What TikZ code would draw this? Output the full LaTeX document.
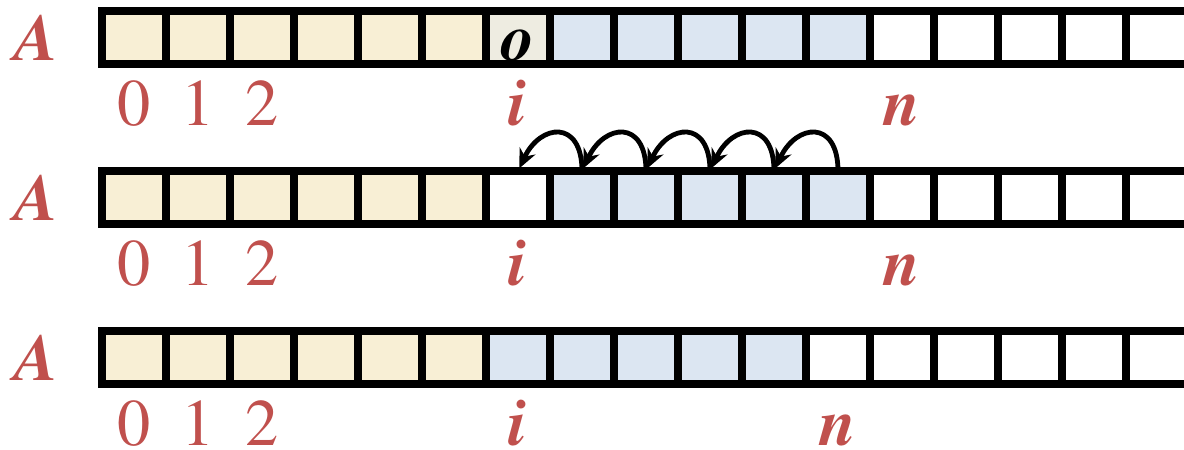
\documentclass[tikz,border=0pt]{standalone}
\usepackage[T1]{fontenc}
\usepackage{mathptmx}
\usetikzlibrary{arrows.meta}
\definecolor{idxred}{HTML}{C0504D}
\definecolor{cellyellow}{HTML}{F8EFD5}
\definecolor{cellblue}{HTML}{DCE6F2}
\definecolor{celltan}{HTML}{EEECE1}
\begin{document}
\begin{tikzpicture}[
    cell/.style={draw=black, line width=0.125cm, minimum width=1cm, minimum height=0.83cm, inner sep=0pt, outer sep=0pt},
    lbl/.style={text=idxred, font=\fontsize{29.5}{30}\selectfont, inner sep=0pt, anchor=base},
    ivar/.style={lbl, font=\fontsize{29.5}{30}\selectfont\bfseries\itshape},
    move/.style={-{Stealth[length=0.3cm,width=0.27cm]}, line width=0.075cm, shorten >=0.05cm}
  ]
    \useasboundingbox (0,0) rectangle (18.5,-7.03);
    \foreach \r/\bs/\be/\m in {1/7/11/12, 2/7/11/12, 3/6/10/11} {
      \pgfmathsetmacro\y{-0.59-2.5*(\r-1)}
      \foreach \k in {0,...,16} {
        \ifnum\k<6 \def\c{cellyellow}\else\ifnum\k<\bs \def\c{white}\else\ifnum\k>\be \def\c{white}\else\def\c{cellblue}\fi\fi\fi
        \node[cell, fill=\c] (a\r-\k) at (2.094+\k, \y) {};
      }
      \node[ivar] (A\r) at (0.57, \y-0.35) {A};
      \node[lbl] (z\r) at ([yshift=-1.37cm]a\r-0.center) {0};
      \node[lbl] (o\r) at ([yshift=-1.37cm]a\r-1.center) {1};
      \node[lbl] (t\r) at ([yshift=-1.37cm]a\r-2.center) {2};
      \node[ivar] (i\r) at ([yshift=-1.37cm]a\r-6.center) {i};
      \node[ivar] (n\r) at ([yshift=-1.37cm]a\r-\m.center) {n};
    }
    \node[cell, fill=celltan] (hole) at (a1-6) {};
    \node[ivar, text=black] (old) at ([yshift=-0.35cm]hole.center) {o};
    \foreach \k/\j in {11/10, 10/9, 9/8, 8/7, 7/6}
      \draw[move] (a2-\k.north) to[out=90, in=65, looseness=2.1] (a2-\j.north);
  \end{tikzpicture}
\end{document}
